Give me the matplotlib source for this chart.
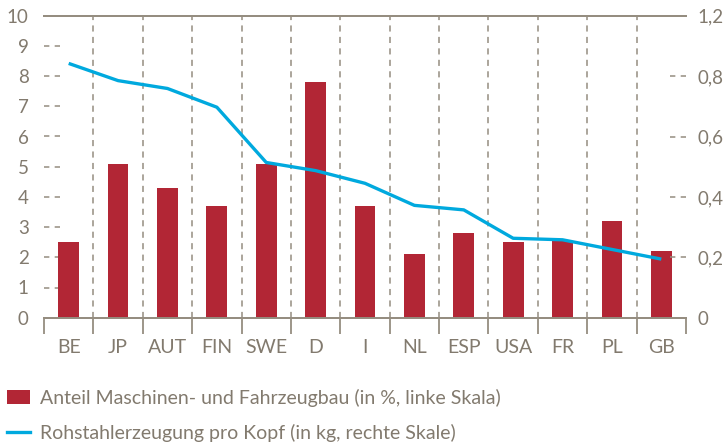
import matplotlib
matplotlib.use("Agg")
import matplotlib.pyplot as plt
import matplotlib.transforms as mtransforms
from matplotlib.patches import Patch
from matplotlib.lines import Line2D

plt.rcParams['font.family'] = ['Lato', 'DejaVu Sans']

categories = ['BE', 'JP', 'AUT', 'FIN', 'SWE', 'D', 'I', 'NL', 'ESP', 'USA', 'FR', 'PL', 'GB']
anteil = [2.5, 5.1, 4.3, 3.7, 5.1, 7.8, 3.7, 2.1, 2.8, 2.5, 2.55, 3.2, 2.2]
rohstahl = [0.842, 0.785, 0.759, 0.697, 0.514, 0.487, 0.445, 0.372, 0.357, 0.263, 0.258, 0.226, 0.194]
left_ticks = [0, 1, 2, 3, 4, 5, 6, 7, 8, 9, 10]
left_labels = ['0', '1', '2', '3', '4', '5', '6', '7', '8', '9', '10']
right_ticks = [0, 0.2, 0.4, 0.6, 0.8, 1.0]
right_labels = ['0', '0,2', '0,4', '0,6', '0,8', '1,2']
legend_labels = ['Anteil Maschinen- und Fahrzeugbau (in %, linke Skala)',
                 'Rohstahlerzeugung pro Kopf (in kg, rechte Skale)']

RED = '#b22635'
BLUE = '#00a9de'
TXT = '#827a6e'
GRID = '#958d80'

fig = plt.figure(figsize=(7.27, 4.44), dpi=100)
ax = fig.add_axes([44/727, 1-317.7/444, 642/727, 302/444])
ax2 = ax.twinx()

x = list(range(len(categories)))
ax.bar(x, anteil, width=0.42, color=RED, zorder=3)
ax.set_xlim(-0.5, len(categories) - 0.5)
ax.set_ylim(0, 10)
ax2.set_ylim(0, 1)

ax2.plot(x, rohstahl, color=BLUE, lw=2.4, zorder=4, solid_capstyle='butt')

# separators
bounds_inner = [i + 0.5 for i in range(len(categories) - 1)]
ax.vlines(bounds_inner, 0, 10, colors=GRID, linestyles=(0, (4, 3.5)), lw=1.1, zorder=1)

for a in (ax, ax2):
    for s in ('left', 'right'):
        a.spines[s].set_visible(False)
    for s in ('top', 'bottom'):
        a.spines[s].set_color(GRID)
        a.spines[s].set_linewidth(1.4)

ax.set_xticks(x)
ax.set_xticklabels(categories)
ax.set_xticks([i - 0.5 for i in range(len(categories) + 1)], minor=True)
ax.tick_params(axis='x', which='major', length=0, pad=15.5, labelsize=14, labelcolor=TXT)
ax.tick_params(axis='x', which='minor', length=11.5, width=1.3, color=GRID, direction='out')

ax.set_yticks(left_ticks)
ax.set_yticklabels(left_labels)
ax.tick_params(axis='y', length=0, pad=11, labelsize=13.5, labelcolor=TXT)

ax2.set_yticks(right_ticks)
ax2.set_yticklabels(right_labels)
ax2.tick_params(axis='y', length=0, pad=8, labelsize=13.5, labelcolor=TXT)

# dashed tick marks
tl = mtransforms.blended_transform_factory(ax.transAxes, ax.transData)
for v in left_ticks[1:-1]:
    ax.plot([0, 16/642], [v, v], transform=tl, color=GRID, lw=1.1,
            linestyle=(0, (3.5, 3.5)), clip_on=False, zorder=2)
tr = mtransforms.blended_transform_factory(ax2.transAxes, ax2.transData)
for v in right_ticks[1:-1]:
    ax2.plot([1 - 16/642, 1], [v, v], transform=tr, color=GRID, lw=1.1,
             linestyle=(0, (3.5, 3.5)), clip_on=False, zorder=2)

handles = [Patch(facecolor=RED, edgecolor='none'),
           Line2D([0], [0], color=BLUE, lw=2.4)]
leg = fig.legend(handles, legend_labels, loc='upper left',
                 bbox_to_anchor=(7/727, 1 - 389/444), frameon=False,
                 fontsize=14, labelcolor=TXT, handlelength=1.2, handleheight=0.7,
                 handletextpad=0.5, labelspacing=0.85, borderpad=0, borderaxespad=0)

fig.savefig('out.png', dpi=100)
